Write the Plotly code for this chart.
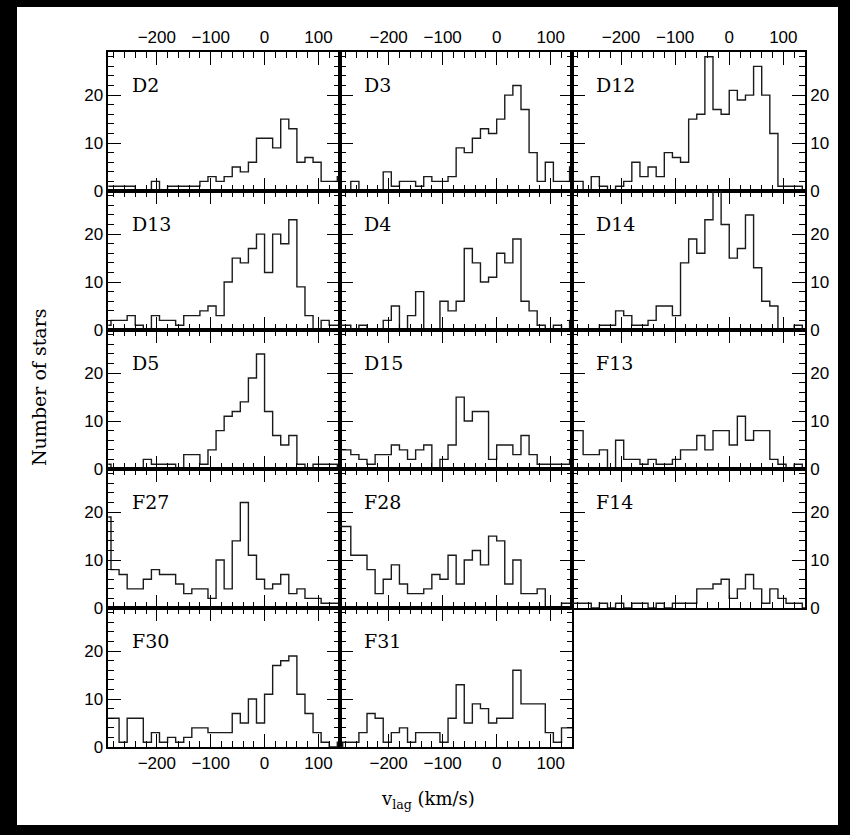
import plotly.graph_objects as go

# ---------------- data (counts per 15 km/s bin, bins start at -300 km/s) ----------------
BIN_START = -300
BIN_WIDTH = 15

panel_names = ["D2", "D3", "D12", "D13", "D4", "D14", "D5", "D15", "F13",
               "F27", "F28", "F14", "F30", "F31"]

D2 = [1, 1, 1, 1, 0, 0, 2, 0, 1, 1, 1, 1, 2, 3, 2, 3, 5, 4, 6, 11, 11, 9, 15, 13, 6, 7, 6, 2, 2, 3]
D3 = [0, 0, 2, 0, 0, 0, 4, 1, 2, 2, 1, 3, 2, 2, 3, 9, 8, 11, 13, 12, 15, 20, 22, 17, 8, 2, 6, 2, 2, 5]
D12 = [2, 2, 0, 3, 1, 0, 1, 2, 6, 3, 5, 3, 8, 7, 6, 15, 16, 28, 17, 16, 21, 19, 20, 26, 20, 12, 1, 1, 1, 0]
D13 = [1, 2, 2, 3, 1, 0, 3, 2, 2, 1, 3, 3, 4, 5, 3, 10, 15, 14, 17, 20, 12, 20, 18, 23, 9, 3, 0, 2, 1, 1]
D4 = [1, 1, 0, 1, 0, 0, 2, 5, 0, 3, 8, 0, 0, 6, 4, 6, 17, 14, 10, 11, 16, 14, 19, 6, 4, 1, 0, 1, 0, 2]
D14 = [0, 0, 0, 0, 1, 1, 4, 3, 1, 1, 2, 5, 5, 3, 14, 19, 16, 23, 29, 22, 15, 17, 24, 13, 6, 5, 0, 0, 1, 0]
D5 = [1, 0, 0, 0, 0, 2, 1, 1, 1, 0, 3, 3, 1, 4, 8, 11, 12, 14, 19, 24, 12, 7, 5, 7, 1, 0, 1, 1, 1, 0]
D15 = [4, 4, 3, 2, 1, 3, 3, 5, 4, 2, 4, 5, 0, 2, 5, 15, 10, 12, 12, 2, 5, 5, 3, 7, 3, 1, 1, 1, 1, 2]
F13 = [8, 8, 3, 3, 4, 0, 6, 2, 2, 1, 2, 1, 1, 2, 4, 4, 7, 4, 8, 8, 5, 11, 6, 8, 8, 2, 1, 0, 1, 0]
F27 = [19, 8, 7, 4, 4, 6, 8, 7, 7, 5, 3, 4, 4, 2, 10, 4, 14, 22, 11, 6, 4, 5, 7, 3, 4, 2, 2, 1, 1, 1]
F28 = [17, 17, 11, 11, 8, 3, 6, 9, 5, 3, 3, 4, 7, 6, 11, 5, 10, 12, 9, 15, 14, 5, 10, 3, 3, 4, 0, 0, 1, 1]
F14 = [1, 1, 1, 0, 1, 0, 1, 0, 1, 1, 0, 1, 0, 1, 1, 1, 4, 4, 5, 6, 2, 4, 7, 4, 1, 4, 2, 1, 1, 0]
F30 = [6, 6, 1, 6, 6, 1, 3, 1, 2, 1, 2, 4, 4, 3, 3, 3, 7, 5, 10, 5, 11, 17, 18, 19, 11, 7, 3, 1, 0, 1]
F31 = [0, 1, 1, 3, 7, 6, 1, 3, 4, 1, 3, 3, 3, 1, 6, 13, 5, 9, 8, 5, 6, 6, 16, 9, 9, 9, 3, 1, 4, 4]

panel_counts = [D2, D3, D12, D13, D4, D14, D5, D15, F13, F27, F28, F14, F30, F31]

x_title = "v<sub>lag</sub> (km/s)"
y_title = "Number of stars"

# ---------------- layout geometry (pixels) ----------------
W, H = 850, 835
M = 20                       # figure margin (plot area = W-2M by H-2M)
COL_X = [108.3, 340.0, 572.3, 805.0]
ROW_Y = [52, 191, 330, 469, 608, 747]
X_RANGE = [-290, 140]
Y_RANGE = [0, 29]
FRAME = [17, 7, 838, 825]   # white page area inside the black border (left, top, right, bottom)


def px(x):
    return (x - M) / (W - 2 * M)


def py(y):
    return (H - M - y) / (H - 2 * M)


TICK_FONT = dict(family="Liberation Sans, Arial, sans-serif", size=17, color="black")
SERIF = "DejaVu Serif, Liberation Serif, serif"

border = []
for (x0, y0, x1, y1) in [(0, 0, W, FRAME[1]), (0, FRAME[3], W, H),
                         (0, 0, FRAME[0], H), (FRAME[2], 0, W, H)]:
    border.append(dict(type="rect", xref="paper", yref="paper",
                       x0=px(x0), x1=px(x1), y0=py(y1), y1=py(y0),
                       fillcolor="black", line=dict(width=0), layer="above"))

fig = go.Figure()
layout = dict(
    template="none",
    width=W, height=H,
    margin=dict(l=M, r=M, t=M, b=M, autoexpand=False),
    paper_bgcolor="white",
    plot_bgcolor="white",
    showlegend=False,
    shapes=border,
    annotations=[],
)

n_rows = len(ROW_Y) - 1
for i, (name, counts) in enumerate(zip(panel_names, panel_counts)):
    r, c = divmod(i, 3)
    idx = i + 1
    xa = "xaxis" if idx == 1 else f"xaxis{idx}"
    ya = "yaxis" if idx == 1 else f"yaxis{idx}"
    xr = "x" if idx == 1 else f"x{idx}"
    yr = "y" if idx == 1 else f"y{idx}"

    edges = [BIN_START + BIN_WIDTH * k for k in range(len(counts) + 1)]
    fig.add_trace(go.Scatter(
        x=edges, y=list(counts) + [counts[-1]],
        mode="lines", line=dict(color="#1a1a1a", width=1.4, shape="hv"),
        xaxis=xr, yaxis=yr, hoverinfo="skip",
    ))

    top_row = (r == 0)
    bottom_labels = (r == n_rows - 1)
    layout[xa] = dict(
        domain=[px(COL_X[c]), px(COL_X[c + 1])],
        anchor=yr, range=X_RANGE, automargin=False,
        showline=True, linecolor="black", linewidth=1.6, mirror="allticks",
        tickmode="linear", tick0=0, dtick=100,
        ticks="inside", ticklen=13, tickwidth=1.3, tickcolor="black",
        minor=dict(tick0=0, dtick=20, ticks="inside", ticklen=6, tickwidth=1.1,
                   tickcolor="black", showgrid=False),
        showgrid=False, zeroline=False,
        showticklabels=top_row or bottom_labels,
        side="top" if top_row else "bottom",
        tickfont=TICK_FONT,
    )
    right = (c == 2)
    layout[ya] = dict(
        domain=[py(ROW_Y[r + 1]), py(ROW_Y[r])],
        anchor=xr, range=Y_RANGE, automargin=False,
        showline=True, linecolor="black", linewidth=1.6, mirror="allticks",
        tickmode="linear", tick0=0, dtick=10,
        ticks="inside", ticklen=13, tickwidth=1.3, tickcolor="black",
        minor=dict(tick0=0, dtick=2, ticks="inside", ticklen=6, tickwidth=1.1,
                   tickcolor="black", showgrid=False),
        showgrid=False, zeroline=False,
        showticklabels=(c == 0 or c == 2),
        side="right" if right else "left",
        tickfont=TICK_FONT,
    )
    layout["annotations"].append(dict(
        text=name, xref="paper", yref="paper",
        x=px(COL_X[c] + 22), y=py(ROW_Y[r] + 33),
        xanchor="left", yanchor="middle", showarrow=False,
        font=dict(family=SERIF, size=19, color="black"),
    ))

layout["annotations"].append(dict(
    text=x_title, xref="paper", yref="paper", x=px(428), y=py(800),
    xanchor="center", yanchor="middle", showarrow=False,
    font=dict(family=SERIF, size=18, color="black"),
))
layout["annotations"].append(dict(
    text=y_title, xref="paper", yref="paper", x=px(39), y=py(388),
    xanchor="center", yanchor="middle", showarrow=False, textangle=-90,
    font=dict(family=SERIF, size=19, color="black"),
))

fig.update_layout(**layout)
fig.write_html("out.html")
